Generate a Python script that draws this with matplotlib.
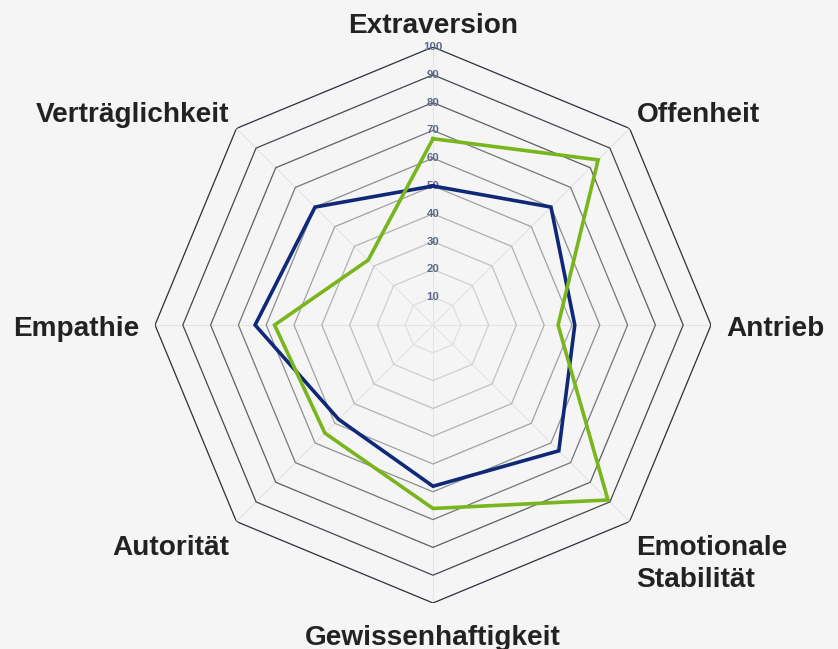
import numpy as np
import matplotlib
matplotlib.use("Agg")
import matplotlib.pyplot as plt
from matplotlib.colors import LinearSegmentedColormap
from matplotlib.transforms import offset_copy

categories = ["Extraversion", "Offenheit", "Antrieb", "Emotionale\nStabilität",
              "Gewissenhaftigkeit", "Autorität", "Empathie", "Verträglichkeit"]
series_blue = [50, 60, 51, 64, 58, 48, 64, 60]
series_green = [67, 84, 45, 89, 66, 55, 57, 33]
tick_values = [10, 20, 30, 40, 50, 60, 70, 80, 90, 100]

BG = "#f5f5f5"
BLUE = "#0f2877"
GREEN = "#79b51c"

W, H = 838, 649
fig = plt.figure(figsize=(W / 100, H / 100), dpi=100, facecolor=BG)
cx, cy, R = 433, 325, 278
ax = fig.add_axes([(cx - R) / W, (H - cy - R) / H, 2 * R / W, 2 * R / H], projection="polar")
ax.set_facecolor("none")
ax.set_theta_zero_location("N")
ax.set_theta_direction(-1)
ax.set_ylim(0, 100)
ax.grid(False)
ax.spines["polar"].set_visible(False)
ax.set_xticks([])
ax.set_yticks([])

n = len(categories)
angles = np.arange(n) * 2 * np.pi / n
closed = np.concatenate([angles, angles[:1]])

# angle lines
for a in angles:
    ax.plot([a, a], [0, 100], color="#e4e4e4", lw=0.8, zorder=1)

# octagon rings, darker outward
cmap = LinearSegmentedColormap.from_list("g", ["#dedede", "#9a9a9a", "#2c2f3c"])
for i, t in enumerate(tick_values):
    col = cmap(i / (len(tick_values) - 1))
    ax.plot(closed, [t] * (n + 1), color=col, lw=0.9, zorder=2)
    ax.text(0, t, str(t), ha="center", va="center", fontsize=8.2, fontweight="bold",
            color="#5b6a86", family="Liberation Sans", zorder=3)

def close(v):
    return list(v) + [v[0]]

ax.plot(closed, close(series_blue), color=BLUE, lw=2.6, zorder=4, solid_joinstyle="miter")
ax.plot(closed, close(series_green), color=GREEN, lw=2.6, zorder=5, solid_joinstyle="miter")

# category labels
for a, lab in zip(angles, categories):
    s, c = np.sin(a), np.cos(a)
    if abs(s) < 1e-6:
        ha = "center"
    elif s > 0:
        ha = "left"
    else:
        ha = "right"
    if abs(c) < 1e-6:
        va, r, dy = "center", 105.5, -4
    elif c > 0:
        if abs(s) > 1e-6:
            va, r, dy = "baseline", 103.5, 0
        else:
            va, r, dy = "bottom", 103, 0
    else:
        if abs(s) > 1e-6:
            va, r, dy = "top", 103.5, -7
        else:
            va, r, dy = "top", 105, -8
    tr = offset_copy(ax.transData, fig=fig, x=0, y=dy, units="dots")
    ax.text(a, r, lab, ha=ha, va=va, fontsize=20.2, fontweight="bold", color="#222222",
            family="Liberation Sans", linespacing=1.3, clip_on=False, transform=tr)

fig.savefig("out.png", dpi=100, facecolor=BG)
